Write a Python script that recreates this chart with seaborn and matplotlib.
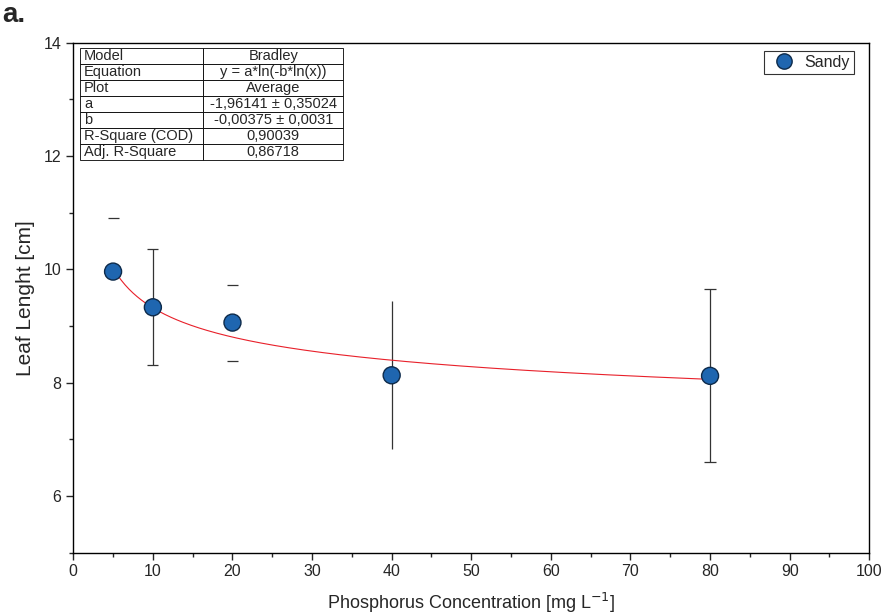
import numpy as np
import pandas as pd
import matplotlib
matplotlib.use("Agg")
import matplotlib.pyplot as plt
import seaborn as sns
from matplotlib.ticker import MultipleLocator

# ---- data ----
conc = [5, 10, 20, 40, 80]
leaf_mean = [9.96, 9.33, 9.06, 8.13, 8.12]
err_upper = [10.91, 10.35, 9.72, 9.44, 9.65]
err_lower = [9.01, 8.31, 8.39, 6.83, 6.60]
show_line = [False, True, False, True, True]
show_top_cap = [True, True, True, False, True]
show_bot_cap = [False, True, True, False, True]
fit_a = -1.96141
fit_b = -0.00375
table_rows = [
    ["Model", "Bradley"],
    ["Equation", "y = a*ln(-b*ln(x))"],
    ["Plot", "Average"],
    ["a", "-1,96141 ± 0,35024"],
    ["b", "-0,00375 ± 0,0031"],
    ["R-Square (COD)", "0,90039"],
    ["Adj. R-Square", "0,86718"],
]
xticks = [0, 10, 20, 30, 40, 50, 60, 70, 80, 90, 100]
yticks = [6, 8, 10, 12, 14]

sns.set_style("ticks")
plt.rcParams['font.family'] = ['Liberation Sans', 'DejaVu Sans']

fig = plt.figure(figsize=(8.85, 6.16), dpi=100)
ax = fig.add_axes([0.0828, 0.1028, 0.8994, 0.828])

df = pd.DataFrame({"x": conc, "y": leaf_mean, "Soil": "Sandy"})

# error bars
for xi, m, up, lo, sl, tc, bc in zip(conc, leaf_mean, err_upper, err_lower,
                                      show_line, show_top_cap, show_bot_cap):
    if sl:
        ax.vlines(xi, lo, up, color="#333333", lw=0.9, zorder=2)
    if tc:
        ax.hlines(up, xi - 0.7, xi + 0.7, color="#333333", lw=0.9, zorder=2)
    if bc:
        ax.hlines(lo, xi - 0.7, xi + 0.7, color="#333333", lw=0.9, zorder=2)

# fitted curve
xf = np.linspace(5, 80, 300)
yf = fit_a * np.log(-fit_b * np.log(xf))
ax.plot(xf, yf, color="#e8202a", lw=0.8, zorder=3)

sns.scatterplot(data=df, x="x", y="y", hue="Soil", palette=["#1f66b0"],
                s=150, edgecolor="#0d2a4a", linewidth=1.0, zorder=4, ax=ax)

ax.set_xlim(0, 100)
ax.set_ylim(5, 14)
ax.set_xticks(xticks)
ax.set_yticks(yticks)
ax.xaxis.set_minor_locator(MultipleLocator(5))
ax.yaxis.set_minor_locator(MultipleLocator(1))
ax.tick_params(axis="both", which="major", direction="out", length=5, width=1,
               labelsize=11.5, top=False, right=False)
ax.tick_params(axis="both", which="minor", direction="out", length=3, width=1,
               top=False, right=False)
for sp in ax.spines.values():
    sp.set_visible(True)
    sp.set_linewidth(1.0)
    sp.set_color("black")

ax.set_xlabel("Phosphorus Concentration [mg L$^{-1}$]", fontsize=13, labelpad=8)
ax.set_ylabel("Leaf Lenght [cm]", fontsize=15, labelpad=6)

leg = ax.legend(loc="upper right", fontsize=11.5, frameon=True, fancybox=False,
                edgecolor="black", borderpad=0.25, handletextpad=0.3,
                borderaxespad=0, bbox_to_anchor=(0.981, 0.984), markerscale=0.9)
leg.get_frame().set_linewidth(0.8)

# fit table
tbl = ax.table(cellText=table_rows, colWidths=[0.468, 0.532], cellLoc="center",
               bbox=[0.009, 0.769, 0.33, 0.221], zorder=5)
tbl.auto_set_font_size(False)
for (r, c), cell in tbl.get_celld().items():
    cell.set_linewidth(0.6)
    cell.set_edgecolor("black")
    cell.set_text_props(fontsize=10.5)
    if c == 0:
        cell._loc = "left"
        cell.get_text().set_ha("left")
        cell.PAD = 0.03

fig.text(0.003, 0.965, "a.", fontsize=20, fontweight="bold")

fig.savefig("out.png", dpi=100)
